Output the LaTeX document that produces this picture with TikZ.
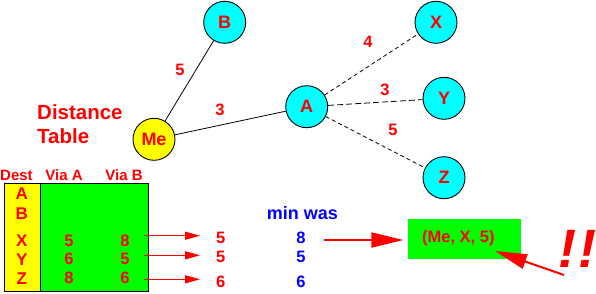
\documentclass[tikz,border=0pt]{standalone}
\usepackage{fontspec}
\setmainfont{Liberation Sans}
\usetikzlibrary{arrows.meta}
\definecolor{cy}{RGB}{0,255,255}
\definecolor{ye}{RGB}{255,255,0}
\definecolor{gr}{RGB}{0,255,0}
\definecolor{rd}{RGB}{255,0,0}
\definecolor{bl}{RGB}{0,0,255}
\tikzset{
  router/.style={circle,draw=black,line width=0.9pt,fill=cy,minimum size=42pt,inner sep=0pt,text=rd,font=\fontsize{18}{18}\selectfont\bfseries},
  lbl/.style={text=rd,font=\fontsize{16.5}{16.5}\selectfont\bfseries,inner sep=0pt},
  blbl/.style={text=bl,font=\fontsize{16.5}{16.5}\selectfont\bfseries,inner sep=0pt},
  hdr/.style={lbl,font=\fontsize{15}{15}\selectfont\bfseries},
  dst/.style={lbl,font=\fontsize{17}{17}\selectfont\bfseries},
  link/.style={line width=0.8pt},
  dlink/.style={line width=0.8pt,dash pattern=on 4pt off 3pt},
  tarrow/.style={rd,line width=1.2pt,-{Triangle[length=15pt,width=8pt]}},
  barrow/.style={rd,line width=2pt,-{Triangle[length=32pt,width=15pt]}}
}
\begin{document}
\begin{tikzpicture}[x=1pt,y=-1pt]
\useasboundingbox (0,0) rectangle (596,293);
% graph
\node[router] (B) at (224.7,22.3) {B};
\node[router,fill=ye] (Me) at (154,139.3) {Me};
\node[router] (A) at (306.7,106.7) {A};
\node[router] (X) at (436,22.3) {X};
\node[router] (Y) at (444,98.3) {Y};
\node[router] (Z) at (444,177.7) {Z};
\draw[link] (Me) -- (B);
\draw[link] (Me) -- (A);
\draw[dlink] (A) -- (X);
\draw[dlink,dash pattern=on 6pt off 3pt] (A) -- (Y);
\draw[dlink] (A) -- (Z);
\node[lbl] (l5) at (180,70) {5};
\node[lbl] (l3) at (220,110) {3};
\node[lbl] (l4) at (368,42) {4};
\node[lbl] (l3b) at (385,90) {3};
\node[lbl] (l5b) at (393,130) {5};
% title
\node[text=rd,font=\fontsize{20.5}{24}\selectfont\bfseries,anchor=west,align=left,inner sep=0pt] (title) at (37,124) {Distance\\Table};
% table
\fill[gr] (40.3,183.3) rectangle (148.7,291);
\fill[ye] (4.3,183.3) rectangle (40.3,291);
\draw[line width=1pt] (4.3,183.3) rectangle (148.7,291);
\draw[line width=1pt] (40.3,183.3) -- (40.3,291);
\node[hdr,anchor=west] (hd) at (0,175) {Dest};
\node[hdr] (hva) at (64,175) {Via A};
\node[hdr] (hvb) at (124,175) {Via B};
\node[dst] (dA) at (21.7,194) {A};
\node[dst] (dB) at (21.7,213.3) {B};
\node[dst] (dX) at (21.7,240.7) {X};
\node[dst] (dY) at (21.7,259.3) {Y};
\node[dst] (dZ) at (21.7,278.3) {Z};
\node[lbl] (aX) at (69,240.7) {5};
\node[lbl] (aY) at (69,259.3) {6};
\node[lbl] (aZ) at (69,278.3) {8};
\node[lbl] (bX) at (125,240.7) {8};
\node[lbl] (bY) at (125,259.3) {5};
\node[lbl] (bZ) at (125,278.3) {6};
\coordinate (s1) at (144,235.7);
\coordinate (e1) at (200,235.7);
\coordinate (s2) at (144,255.3);
\coordinate (e2) at (200,255.3);
\coordinate (s3) at (144,279.3);
\coordinate (e3) at (200,279.3);
\draw[tarrow] (s1) -- (e1);
\draw[tarrow] (s2) -- (e2);
\draw[tarrow] (s3) -- (e3);
\node[lbl] (mX) at (220.7,238) {5};
\node[lbl] (mY) at (220.7,257.3) {5};
\node[lbl] (mZ) at (220.7,282) {6};
\node[blbl,font=\fontsize{18}{18}\selectfont\bfseries] (minwas) at (302.5,213) {min was};
\node[blbl] (wX) at (301,238) {8};
\node[blbl] (wY) at (301,257.3) {5};
\node[blbl] (wZ) at (301,282) {6};
% result box
\node[fill=gr,minimum width=112.4pt,minimum height=40pt,inner sep=0pt] (res) at (464.5,239.3) {};
\node[lbl] (rest) at (458.3,238.3) {(Me, X, 5)};
\coordinate (a1s) at (324,240);
\coordinate (a1e) at (403.3,240);
\draw[barrow] (a1s) -- (a1e);
\coordinate (a2s) at (564,275);
\coordinate (a2e) at (495,251);
\draw[barrow] (a2s) -- (a2e);
\node[text=rd,font=\fontsize{54}{54}\selectfont\bfseries\itshape,inner sep=0pt] (bang) at (577,249) {!\kern2pt!};
\end{tikzpicture}
\end{document}
